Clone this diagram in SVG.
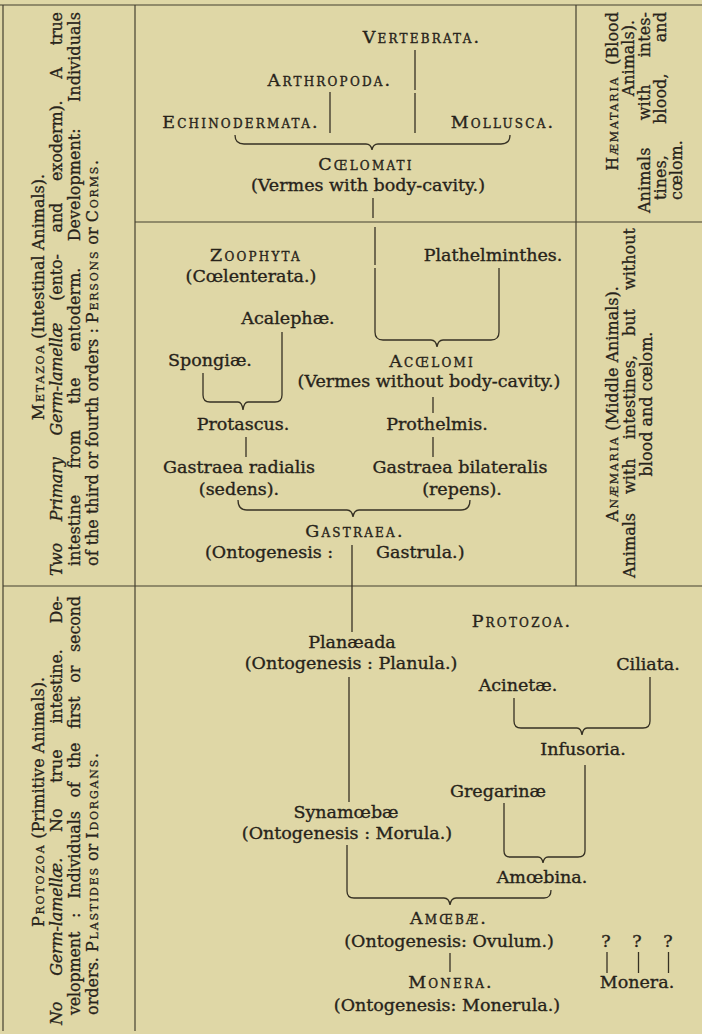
<svg xmlns="http://www.w3.org/2000/svg" width="702" height="1034" viewBox="0 0 702 1034">
<style>
.t{font-family:"DejaVu Serif",serif;font-size:17.5px;fill:#27231a;stroke:#27231a;stroke-width:0.35;text-anchor:middle}
.sc{font-variant:small-caps;letter-spacing:2.2px}
.s{font-family:"DejaVu Serif",serif;font-size:16px;fill:#27231a;stroke:#27231a;stroke-width:0.3}
.s .sc{letter-spacing:1.8px}
.i{font-style:italic}
.ln{stroke:#363124;stroke-width:1.3;fill:none}
.fr{stroke:#45402f;stroke-width:1.2;fill:none}
</style>
<rect width="702" height="1034" fill="#dfd7a6"/>
<g id="frame" class="fr">
<line x1="0" y1="5" x2="702" y2="5"/>
<line x1="3" y1="5" x2="3" y2="1031"/>
<line x1="135" y1="5" x2="135" y2="1031"/>
<line x1="576" y1="5" x2="576" y2="586"/>
<line x1="135" y1="222" x2="702" y2="222"/>
<line x1="3" y1="586" x2="702" y2="586"/>
</g>
<g id="metazoa-note" class="s">
<text transform="translate(44,297) rotate(-90)" text-anchor="middle"><tspan class="sc">Metazoa</tspan> (Intestinal Animals).</text>
<text transform="translate(62,576) rotate(-90)" textLength="564" lengthAdjust="spacing" style="word-spacing:17px"><tspan class="i">Two Primary Germ-lamellæ</tspan> (ento- and exoderm). A true</text>
<text transform="translate(80,566) rotate(-90)" textLength="554" lengthAdjust="spacing" style="word-spacing:21px">intestine from the entoderm. Development: Individuals</text>
<text transform="translate(98,566) rotate(-90)">of the third or fourth orders : <tspan class="sc">Persons</tspan> or <tspan class="sc">Corms</tspan>.</text>
</g>
<g id="protozoa-note" class="s">
<text transform="translate(44,802) rotate(-90)" text-anchor="middle"><tspan class="sc">Protozoa</tspan> (Primitive Animals).</text>
<text transform="translate(62,1025) rotate(-90)" textLength="429" lengthAdjust="spacing" style="word-spacing:21px"><tspan class="i">No Germ-lamellæ.</tspan> No true intestine. De-</text>
<text transform="translate(80,1015) rotate(-90)" textLength="419" lengthAdjust="spacing" style="word-spacing:9px">velopment : Individuals of the first or second</text>
<text transform="translate(98,1015) rotate(-90)">orders. <tspan class="sc">Plastides</tspan> or <tspan class="sc">Idorgans</tspan>.</text>
</g>
<g id="haemataria-note" class="s">
<text transform="translate(618,12) rotate(-90)" text-anchor="end" style="word-spacing:6px"><tspan class="sc">Hæmataria</tspan> (Blood</text>
<text transform="translate(634,20) rotate(-90)" text-anchor="end">Animals).</text>
<text transform="translate(650,213) rotate(-90)" textLength="201" lengthAdjust="spacing" style="word-spacing:22px">Animals with intes-</text>
<text transform="translate(666,200) rotate(-90)" textLength="188" lengthAdjust="spacing" style="word-spacing:26px">tines, blood, and</text>
<text transform="translate(682,200) rotate(-90)">cœlom.</text>
</g>
<g id="anaemaria-note" class="s">
<text transform="translate(618,404) rotate(-90)" text-anchor="middle"><tspan class="sc">Anæmaria</tspan> (Middle Animals).</text>
<text transform="translate(635,578) rotate(-90)" textLength="350" lengthAdjust="spacing" style="word-spacing:14px">Animals with intestines, but without</text>
<text transform="translate(652,404) rotate(-90)" text-anchor="middle">blood and cœlom.</text>
</g>
<g id="connectors" class="ln">
<path d="M415,50 V90 M415,93 V133"/>
<path d="M330,92 V133"/>
<path d="M235,135 Q235,144 244,144 H366 Q371,144 372,150 Q373,144 378,144 H501 Q510,144 510,135"/>
<path d="M373,198 V218"/>
<path d="M375,227 V265 M375,268 V332 Q375,340 383,340 H431 Q436,340 437,347 Q438,340 443,340 H491 Q499,340 499,332 V268"/>
<path d="M282,332 V395 Q282,402 275,402 H248 Q244,402 243,410 Q242,402 238,402 H210 Q203,402 203,395 V373"/>
<path d="M433,397 V413"/>
<path d="M246,437 V457"/>
<path d="M433,437 V457"/>
<path d="M238,500 Q238,510 247,510 H347 Q352,510 353,517 Q354,510 359,510 H461 Q470,510 470,500"/>
<path d="M352,545 V632"/>
<path d="M349,677 V802"/>
<path d="M514,698 V721 Q514,728 521,728 H577 Q581,728 582,735 Q583,728 587,728 H643 Q650,728 650,721 V677"/>
<path d="M504,803 V851 Q504,857 510,857 H538 Q542,857 543,863 Q544,857 548,857 H578 Q585,857 585,851 V765"/>
<path d="M347,845 V891 Q347,898 354,898 H444 Q449,898 450,905 Q451,898 456,898 H544 Q551,898 551,890"/>
<path d="M450,953 V972"/>
<path d="M607,952 V973"/>
<path d="M638.5,952 V973"/>
<path d="M668.5,952 V973"/>
</g>
<g id="vertebrata"><text class="t sc" x="422" y="43">Vertebrata.</text></g>
<g id="arthropoda"><text class="t sc" x="330" y="86">Arthropoda.</text></g>
<g id="echinodermata"><text class="t sc" x="241" y="128">Echinodermata.</text></g>
<g id="mollusca"><text class="t sc" x="503" y="128">Mollusca.</text></g>
<g id="coelomati"><text class="t sc" x="366" y="170">Cœlomati</text><text class="t" x="368" y="191">(Vermes with body-cavity.)</text></g>
<g id="zoophyta"><text class="t sc" x="256" y="261">Zoophyta</text><text class="t" x="251" y="282">(Cœlenterata.)</text></g>
<g id="plathelminthes"><text class="t" x="493" y="261">Plathelminthes.</text></g>
<g id="acalephae"><text class="t" x="288" y="324">Acalephæ.</text></g>
<g id="spongiae"><text class="t" x="210" y="366">Spongiæ.</text></g>
<g id="acoelomi"><text class="t sc" x="432" y="367">Acœlomi</text><text class="t" x="429" y="387">(Vermes without body-cavity.)</text></g>
<g id="protascus"><text class="t" x="243" y="430">Protascus.</text></g>
<g id="prothelmis"><text class="t" x="437" y="430">Prothelmis.</text></g>
<g id="gastraea-radialis"><text class="t" x="239" y="473">Gastraea radialis</text><text class="t" x="239" y="495">(sedens).</text></g>
<g id="gastraea-bilateralis"><text class="t" x="460" y="473">Gastraea bilateralis</text><text class="t" x="462" y="495">(repens).</text></g>
<g id="gastraea"><text class="t sc" x="355" y="537">Gastraea.</text><text class="t" style="text-anchor:start"><tspan x="205" y="558">(Ontogenesis :</tspan><tspan x="376" y="558">Gastrula.)</tspan></text></g>
<g id="protozoa"><text class="t sc" x="522" y="627">Protozoa.</text></g>
<g id="planaeada"><text class="t" x="352" y="648">Planæada</text><text class="t" x="351" y="669">(Ontogenesis : Planula.)</text></g>
<g id="ciliata"><text class="t" x="648" y="670">Ciliata.</text></g>
<g id="acinetae"><text class="t" x="518" y="691">Acinetæ.</text></g>
<g id="infusoria"><text class="t" x="583" y="755">Infusoria.</text></g>
<g id="gregarinae"><text class="t" x="498" y="797">Gregarinæ</text></g>
<g id="synamoebae"><text class="t" x="346" y="818">Synamœbæ</text><text class="t" x="347" y="839">(Ontogenesis : Morula.)</text></g>
<g id="amoebina"><text class="t" x="542" y="883">Amœbina.</text></g>
<g id="amoebae"><text class="t sc" x="449" y="924">Amœbæ.</text><text class="t" x="449" y="947">(Ontogenesis: Ovulum.)</text></g>
<g id="unknown"><text class="t" x="606" y="947">?</text><text class="t" x="637" y="947">?</text><text class="t" x="668" y="947">?</text></g>
<g id="monera"><text class="t sc" x="451" y="988">Monera.</text><text class="t" x="447" y="1011">(Ontogenesis: Monerula.)</text></g>
<g id="monera-2"><text class="t" x="637" y="988">Monera.</text></g>
</svg>
